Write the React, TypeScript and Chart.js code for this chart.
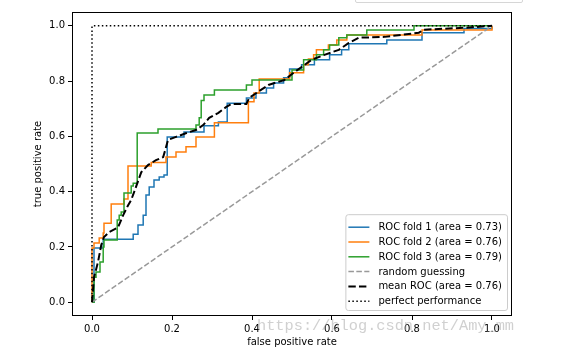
import React, { useEffect, useRef } from 'react';
import { Chart, registerables } from 'chart.js';

Chart.register(...registerables);

const X_TICKS = [0, 0.2, 0.4, 0.6, 0.8, 1.0];
const Y_TICKS = [0, 0.2, 0.4, 0.6, 0.8, 1.0];

const FOLD1_FPR = [0, 0.005, 0.028, 0.103, 0.115, 0.128, 0.135, 0.143, 0.155, 0.168, 0.18, 0.188, 0.23, 0.28, 0.316, 0.338, 0.386, 0.41, 0.436, 0.454, 0.479, 0.494, 0.524, 0.556, 0.594, 0.624, 0.642, 0.737, 0.825, 0.93, 1.0];
const FOLD1_TPR = [0, 0.196, 0.228, 0.246, 0.279, 0.315, 0.388, 0.417, 0.442, 0.453, 0.46, 0.598, 0.616, 0.638, 0.652, 0.72, 0.739, 0.757, 0.775, 0.793, 0.812, 0.844, 0.859, 0.877, 0.895, 0.913, 0.935, 0.949, 0.975, 0.99, 1.0];

const FOLD2_FPR = [0, 0, 0.005, 0.018, 0.028, 0.03, 0.048, 0.08, 0.09, 0.148, 0.185, 0.21, 0.235, 0.26, 0.306, 0.391, 0.405, 0.418, 0.494, 0.529, 0.541, 0.554, 0.561, 0.591, 0.612, 0.637, 0.825, 1.0];
const FOLD2_TPR = [0, 0.196, 0.214, 0.232, 0.25, 0.286, 0.355, 0.373, 0.493, 0.505, 0.525, 0.543, 0.562, 0.598, 0.649, 0.725, 0.757, 0.808, 0.83, 0.859, 0.88, 0.895, 0.913, 0.931, 0.949, 0.967, 0.985, 1.0];

const FOLD3_FPR = [0, 0.005, 0.01, 0.02, 0.028, 0.03, 0.063, 0.068, 0.073, 0.08, 0.098, 0.103, 0.113, 0.165, 0.26, 0.268, 0.273, 0.28, 0.306, 0.386, 0.4, 0.5, 0.529, 0.561, 0.579, 0.594, 0.617, 0.637, 0.687, 0.805, 1.0];
const FOLD3_TPR = [0, 0.09, 0.109, 0.145, 0.2, 0.225, 0.297, 0.315, 0.326, 0.395, 0.42, 0.43, 0.612, 0.627, 0.641, 0.667, 0.73, 0.75, 0.768, 0.786, 0.804, 0.84, 0.877, 0.895, 0.913, 0.931, 0.957, 0.967, 0.985, 1.0, 1.0];

const RANDOM_FPR = [0, 1];
const RANDOM_TPR = [0, 1];

const MEAN_FPR = [0, 0.005, 0.015, 0.023, 0.03, 0.043, 0.065, 0.078, 0.09, 0.098, 0.11, 0.123, 0.14, 0.16, 0.178, 0.183, 0.19, 0.21, 0.236, 0.26, 0.278, 0.293, 0.316, 0.336, 0.348, 0.386, 0.393, 0.416, 0.441, 0.481, 0.504, 0.524, 0.549, 0.581, 0.617, 0.642, 0.667, 0.732, 0.817, 0.83, 0.932, 1.0];
const MEAN_TPR = [0, 0.09, 0.145, 0.206, 0.236, 0.254, 0.27, 0.315, 0.35, 0.37, 0.417, 0.47, 0.496, 0.514, 0.525, 0.55, 0.587, 0.598, 0.612, 0.623, 0.641, 0.667, 0.685, 0.707, 0.717, 0.717, 0.739, 0.762, 0.786, 0.804, 0.83, 0.851, 0.877, 0.895, 0.913, 0.938, 0.957, 0.96, 0.975, 0.986, 0.993, 1.0];

const PERFECT_FPR = [0, 0, 1];
const PERFECT_TPR = [0, 1, 1];

const LABELS = [
  'ROC fold 1 (area = 0.73)',
  'ROC fold 2 (area = 0.76)',
  'ROC fold 3 (area = 0.79)',
  'random guessing',
  'mean ROC (area = 0.76)',
  'perfect performance',
];

const X_TITLE = 'false positive rate';
const Y_TITLE = 'true positive rate';
const WATERMARK = 'https://blog.csdn.net/Amy_mm';

const FONT = "'DejaVu Sans', sans-serif";

type Style = { color: string; width: number; dash: number[]; stepped: false | 'before' };

const STYLES: Style[] = [
  { color: '#1f77b4', width: 1.5, dash: [], stepped: 'before' },
  { color: '#ff7f0e', width: 1.5, dash: [], stepped: 'before' },
  { color: '#2ca02c', width: 1.5, dash: [], stepped: 'before' },
  { color: '#999999', width: 1.5, dash: [5.55, 2.4], stepped: false },
  { color: '#000000', width: 2, dash: [7.4, 3.2], stepped: false },
  { color: '#000000', width: 1.5, dash: [1.5, 2.475], stepped: false },
];

const zip = (xs: number[], ys: number[]) => xs.map((x, i) => ({ x, y: ys[i] }));

const SERIES = [
  zip(FOLD1_FPR, FOLD1_TPR),
  zip(FOLD2_FPR, FOLD2_TPR),
  zip(FOLD3_FPR, FOLD3_TPR),
  zip(RANDOM_FPR, RANDOM_TPR),
  zip(MEAN_FPR, MEAN_TPR),
  zip(PERFECT_FPR, PERFECT_TPR),
];

const framePlugin = {
  id: 'mplFrame',
  afterDatasetsDraw(chart: any) {
    const { ctx, chartArea } = chart;
    ctx.save();
    ctx.strokeStyle = '#000';
    ctx.lineWidth = 1;
    ctx.setLineDash([]);
    ctx.strokeRect(
      Math.round(chartArea.left) + 0.5,
      Math.round(chartArea.top) + 0.5,
      Math.round(chartArea.right - chartArea.left) - 1,
      Math.round(chartArea.bottom - chartArea.top) - 1
    );
    ctx.restore();
  },
};

const legendPlugin = {
  id: 'mplLegend',
  afterDraw(chart: any) {
    const { ctx, chartArea } = chart;
    ctx.save();
    ctx.font = `10px ${FONT}`;
    const rowH = 14.8;
    const maxW = Math.max(...LABELS.map((l) => ctx.measureText(l).width));
    const pad = 3;
    const handle = 21;
    const gap = 9;
    const w = pad + handle + gap + maxW + 5;
    const h = rowH * LABELS.length + 7;
    const right = chartArea.right - 5;
    const bottom = chartArea.bottom - 6;
    const left = right - w;
    const top = bottom - h;
    ctx.beginPath();
    (ctx as any).roundRect(left + 0.5, top + 0.5, w, h, 2.5);
    ctx.fillStyle = 'rgba(255,255,255,0.8)';
    ctx.fill();
    ctx.strokeStyle = '#cccccc';
    ctx.lineWidth = 1;
    ctx.stroke();
    LABELS.forEach((label, i) => {
      const s = STYLES[i];
      const cy = top + 13 + i * rowH;
      ctx.beginPath();
      ctx.setLineDash(s.dash);
      ctx.lineWidth = s.width;
      ctx.strokeStyle = s.color;
      ctx.moveTo(left + pad, cy);
      ctx.lineTo(left + pad + handle, cy);
      ctx.stroke();
      ctx.setLineDash([]);
      ctx.fillStyle = '#000';
      ctx.textBaseline = 'middle';
      ctx.textAlign = 'left';
      ctx.fillText(label, left + pad + handle + gap, cy + 0.5);
    });
    ctx.restore();
  },
};

export default function App() {
  const ref = useRef<HTMLCanvasElement | null>(null);

  useEffect(() => {
    if (!ref.current) return;
    const chart = new Chart(ref.current, {
      type: 'line',
      data: {
        datasets: SERIES.map((data, i) => ({
          label: LABELS[i],
          data,
          borderColor: STYLES[i].color,
          backgroundColor: STYLES[i].color,
          borderWidth: STYLES[i].width,
          borderDash: STYLES[i].dash,
          stepped: STYLES[i].stepped,
          pointRadius: 0,
          pointHoverRadius: 0,
          fill: false,
          tension: 0,
          order: LABELS.length - i,
        })),
      },
      options: {
        animation: false,
        responsive: false,
        devicePixelRatio: 1,
        parsing: false as any,
        layout: { padding: { left: 0, top: 12, right: 60, bottom: 0 } },
        plugins: {
          legend: { display: false },
          tooltip: { enabled: false },
        },
        scales: {
          x: {
            type: 'linear',
            min: -0.05,
            max: 1.05,
            afterBuildTicks: (s: any) => {
              s.ticks = X_TICKS.map((v) => ({ value: v }));
            },
            afterFit: (s: any) => {
              s.height = 42;
            },
            ticks: {
              color: '#000',
              font: { family: FONT, size: 10 },
              padding: 3,
              maxRotation: 0,
              autoSkip: false,
              callback: (v: any) => Number(v).toFixed(1),
            },
            grid: { display: true, drawOnChartArea: false, drawTicks: true, tickLength: 4, color: '#000', lineWidth: 1 },
            border: { display: false },
            title: {
              display: true,
              text: X_TITLE,
              color: '#000',
              font: { family: FONT, size: 10 },
              padding: { top: 0, bottom: 10 },
            },
          },
          y: {
            type: 'linear',
            min: -0.05,
            max: 1.05,
            afterBuildTicks: (s: any) => {
              s.ticks = Y_TICKS.map((v) => ({ value: v }));
            },
            afterFit: (s: any) => {
              s.width = 72;
            },
            ticks: {
              color: '#000',
              font: { family: FONT, size: 10 },
              padding: 3,
              autoSkip: false,
              callback: (v: any) => Number(v).toFixed(1),
            },
            grid: { display: true, drawOnChartArea: false, drawTicks: true, tickLength: 4, color: '#000', lineWidth: 1 },
            border: { display: false },
            title: {
              display: true,
              text: Y_TITLE,
              color: '#000',
              font: { family: FONT, size: 10 },
              padding: { top: 32, bottom: 0 },
            },
          },
        },
      },
      plugins: [framePlugin, legendPlugin],
    });
    return () => chart.destroy();
  }, []);

  return (
    <div style={{ position: 'absolute', left: 0, top: 0, width: 572, height: 358, background: '#fff', overflow: 'hidden' }}>
      <canvas ref={ref} width={572} height={358} style={{ display: 'block', width: 572, height: 358 }} />
      <div
        style={{
          position: 'absolute',
          left: 355,
          top: -10,
          width: 166,
          height: 11,
          border: '1px solid #d6d6d6',
          borderRadius: 2,
          pointerEvents: 'none',
        }}
      />
      <div
        style={{
          position: 'absolute',
          left: 257,
          top: 316,
          fontFamily: "'Liberation Mono', 'DejaVu Sans Mono', monospace",
          fontSize: 15.3,
          lineHeight: '20px',
          color: 'rgba(170,170,170,0.55)',
          whiteSpace: 'nowrap',
          pointerEvents: 'none',
        }}
      >
        {WATERMARK}
      </div>
    </div>
  );
}
